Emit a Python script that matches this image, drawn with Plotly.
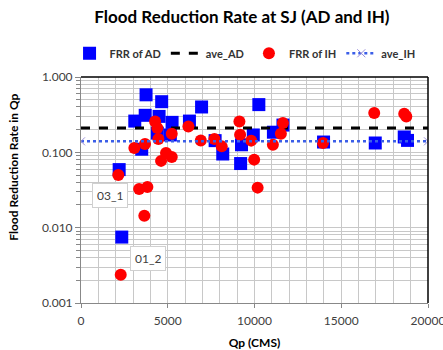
import math
import plotly.graph_objects as go

# --- data ---
ad_q = [3100, 3700, 3750, 4650, 4500, 5250, 4400, 5150, 3500, 6250, 6950, 2200, 2350,
        7730, 8170, 9250, 9200, 9930, 10250, 11090, 11640, 13980, 16960, 18630, 18820]
ad_frr = [0.26, 0.31, 0.58, 0.47, 0.30, 0.25, 0.18, 0.17, 0.11, 0.26, 0.40, 0.059, 0.0075,
          0.143, 0.095, 0.126, 0.071, 0.17, 0.43, 0.185, 0.23, 0.137, 0.133, 0.16, 0.144]
ih_q = [4270, 4400, 5230, 4460, 3690, 3075, 4900, 5230, 4615, 6190, 2150, 3350, 3825, 3650, 2290,
        6905, 7690, 8110, 9130, 9170, 9810, 9980, 10180, 11060, 11520, 11640, 13950, 16900, 18630, 18750]
ih_frr = [0.257, 0.21, 0.177, 0.15, 0.129, 0.114, 0.098, 0.087, 0.077, 0.221, 0.050, 0.0326, 0.0346,
          0.0144, 0.00237, 0.144, 0.15, 0.12, 0.257, 0.171, 0.143, 0.080, 0.034, 0.126, 0.177, 0.245,
          0.133, 0.333, 0.325, 0.30]
ave_q = [0, 20000]
ave_ad = [0.21, 0.21]
ave_ih = [0.14, 0.14]
labels = ["03_1", "01_2"]
label_q = [2200, 2350]
label_frr = [0.059, 0.0075]

FONT = "Lato"
fig = go.Figure()
fig.add_trace(go.Scatter(x=ad_q, y=ad_frr, mode="markers", name="FRR of AD",
                         marker=dict(symbol="square", size=13, color="#0000FF")))
fig.add_trace(go.Scatter(x=ave_q, y=ave_ad, mode="lines", name="ave_AD",
                         line=dict(color="black", width=3, dash="dash")))
fig.add_trace(go.Scatter(x=ih_q, y=ih_frr, mode="markers", name="FRR of IH",
                         marker=dict(symbol="circle", size=12, color="#FF0000")))
fig.add_trace(go.Scatter(x=ave_q, y=ave_ih, mode="lines+markers", name="ave_IH",
                         line=dict(color="#3B5EE8", width=2.5, dash="dot"),
                         marker=dict(symbol="x-thin", size=8, color="#9A8FD8",
                                     line=dict(color="#9A8FD8", width=1))))

shifts = [(-9, -26), (26, -21)]
for t, q, f, (dx, dy) in zip(labels, label_q, label_frr, shifts):
    fig.add_annotation(x=q, y=math.log10(f), text=t, showarrow=False, xshift=dx, yshift=dy,
                       font=dict(family=FONT, size=12, color="#404040"),
                       bgcolor="white", bordercolor="#D0D0D0", borderwidth=1, borderpad=4)

fig.add_annotation(text="<b>Flood Reduction Rate in Qp</b>", textangle=-90, showarrow=False,
                   xref="paper", yref="paper", x=-0.195, y=0.6,
                   xanchor="center", yanchor="middle",
                   font=dict(family=FONT, size=12, color="black"))

# plot frame top/right black
fig.add_shape(type="line", xref="x domain", yref="y domain", x0=0, x1=1, y0=1, y1=1,
              line=dict(color="black", width=1.5))
fig.add_shape(type="line", xref="x domain", yref="y domain", x0=1, x1=1, y0=0, y1=1,
              line=dict(color="black", width=1.5))

minor_vals = [k * 10 ** e for e in (-3, -2, -1) for k in range(2, 10)]

fig.update_layout(
    width=443, height=350,
    margin=dict(l=81, r=15, t=77, b=47, autoexpand=False),
    paper_bgcolor="white", plot_bgcolor="white",
    font=dict(family=FONT, color="#404040"),
    title=dict(text="<b>Flood Reduction Rate at SJ (AD and IH)</b>", x=0.546, xanchor="center",
               y=1 - 17 / 350, yanchor="middle", yref="container",
               font=dict(family=FONT, size=17, color="black")),
    showlegend=True,
    legend=dict(orientation="h", x=-0.033, y=1.105, xanchor="left", yanchor="middle",
                font=dict(family=FONT, size=11, color="#333333", weight="bold"),
                bgcolor="rgba(0,0,0,0)", itemwidth=30),
    xaxis=dict(range=[0, 20000], dtick=5000, tick0=0, tickformat="d", automargin=False,
               showgrid=True, gridcolor="#C8C8C8", ticklabeloverflow="allow",
               zeroline=False, showline=True, linecolor="#888888", linewidth=1,
               ticks="outside", ticklen=4, tickcolor="#888888", ticklabelstandoff=3,
               tickfont=dict(family=FONT, size=12, color="#404040"),
               minor=dict(dtick=1000, showgrid=True, gridcolor="#C8C8C8"),
               title=dict(text="<b>Qp (CMS)</b>", font=dict(family=FONT, size=12, color="black"),
                          standoff=15)),
    yaxis=dict(type="log", range=[-3, 0], tickvals=[0.001, 0.01, 0.1, 1], automargin=False,
               tickformat=".3f", showgrid=True, gridcolor="#C8C8C8",
               zeroline=False, showline=True, linecolor="#888888", linewidth=1,
               ticks="outside", ticklen=5, tickcolor="#888888",
               tickfont=dict(family=FONT, size=12, color="#404040"),
               minor=dict(tickvals=minor_vals, showgrid=True, gridcolor="#C8C8C8",
                          ticks="outside", ticklen=4, tickcolor="#888888")),
)

fig.write_html("out.html")
